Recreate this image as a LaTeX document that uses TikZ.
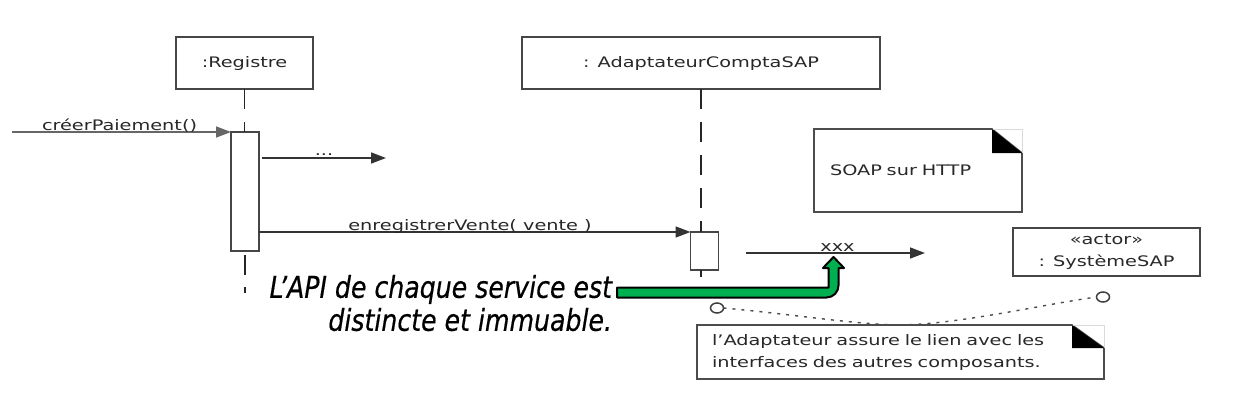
\documentclass[tikz,border=0pt]{standalone}
\usepackage{fontspec}
\setmainfont{DejaVu Sans}[FakeStretch=1.33]
\newfontfamily\apifont{DejaVu Sans}[FakeStretch=0.84,FakeBold=0.5]
\usetikzlibrary{arrows.meta,calc,shapes.geometric}
\definecolor{lc}{RGB}{70,70,70}
\definecolor{tc}{RGB}{40,40,40}
\definecolor{okgreen}{RGB}{0,176,80}
\begin{document}
\begin{tikzpicture}[x=1pt,y=-1pt,
  every node/.style={inner sep=0pt, outer sep=0pt, font=\fontsize{14.5}{21}\selectfont, text=tc},
  objbox/.style={draw=lc, line width=1.6pt, fill=white, minimum height=52pt},
  actbox/.style={draw=lc, line width=1.5pt, fill=white, minimum width=28pt},
  lifeline/.style={draw=black!85, line width=1.5pt, dash pattern=on 20pt off 13pt},
  msg/.style={draw=black!80, line width=1.5pt, -{Triangle[length=15pt,width=11pt]}},
  lbl/.style={anchor=base},
  notebd/.style={draw=black!70, line width=1.6pt},
  endpt/.style={ellipse, draw=black!75, line width=1.5pt, minimum width=13pt, minimum height=10pt, fill=white},
  assoc/.style={draw=black!70, line width=1.4pt, dash pattern=on 3pt off 6pt}
]
\useasboundingbox (0,0) rectangle (1234,404);
\fill[white] (0,0) rectangle (1234,404);

% objects
\node[objbox, minimum width=137pt] (reg) at (244.5,63) {:Registre};
\node[objbox, minimum width=358pt] (adp) at (701,63) {: AdaptateurComptaSAP};

% activations
\node[actbox, minimum height=119pt] (act1) at (245,191.5) {};
\node[actbox, minimum height=38pt] (act2) at (704.5,251) {};

% lifelines
\coordinate (l1end) at (245,293);
\coordinate (l2end) at (701,277);
\draw[lifeline] (reg.south) -- (reg.south |- act1.north);
\draw[draw=black!85, line width=1.5pt, dash pattern=on 0pt off 4pt on 20pt off 12pt on 20pt off 100pt] (act1.south) -- (l1end);
\draw[lifeline] (adp.south) -- (adp.south |- act2.north);
\draw[draw=black!85, line width=1.5pt] (adp.south |- act2.south) -- (l2end);

% messages
\coordinate (cpstart) at (12,132);
\draw[msg, draw=black!60] (cpstart) -- (act1.north west);
\node[lbl, anchor=base west] (cplbl) at (42,130) {créerPaiement()};

\coordinate (dstart) at (262,158);
\coordinate (dend) at (386,158);
\draw[msg] (dstart) -- (dend);
\node[lbl] (dlbl) at (324,155) {...};

\draw[msg] (act2.north west -| act1.east) -- (act2.north west);
\node[lbl] (evlbl) at (470,230) {enregistrerVente( vente )};

\coordinate (xstart) at (746,253);
\coordinate (xend) at (925,253);
\draw[msg] (xstart) -- (xend);
\node[lbl] (xlbl) at (837.5,251) {xxx};

% SOAP note
\node[minimum width=208pt, minimum height=83pt, text width=176pt, align=left] (soap) at (918,170.5) {SOAP sur HTTP};
\draw[notebd] (soap.north west) -- ($(soap.north east)+(-30,0)$) -- ($(soap.north east)+(0,24)$) -- (soap.south east) -- (soap.south west) -- cycle;
\draw[black!15, line width=1pt] ($(soap.north east)+(-30,0)$) -- (soap.north east) -- ($(soap.north east)+(0,24)$);
\fill[black] ($(soap.north east)+(-30,0)$) -- ($(soap.north east)+(-30,24)$) -- ($(soap.north east)+(0,24)$) -- cycle;

% actor
\node[draw=lc, line width=1.6pt, minimum width=187pt, minimum height=48pt, align=center,
      font=\fontsize{14.5}{22}\selectfont] (sap) at (1106.5,252) {«actor»\\: SystèmeSAP};

% bottom note
\node[minimum width=407pt, minimum height=54pt, text width=377pt, align=left,
      font=\fontsize{14.5}{22}\selectfont] (note) at (900.5,352) {l’Adaptateur assure le lien avec les\\interfaces des autres composants.};
\draw[notebd] (note.north west) -- ($(note.north east)+(-32,0)$) -- ($(note.north east)+(0,23)$) -- (note.south east) -- (note.south west) -- cycle;
\draw[black!15, line width=1pt] ($(note.north east)+(-32,0)$) -- (note.north east) -- ($(note.north east)+(0,23)$);
\fill[black] ($(note.north east)+(-32,0)$) -- ($(note.north east)+(-32,23)$) -- ($(note.north east)+(0,23)$) -- cycle;

% note attachments
\node[endpt] (c1) at (717,308) {};
\node[endpt] (c2) at (1103,297) {};
\draw[assoc] (c1.east) .. controls (800,315) and (850,324) .. (note.north);
\draw[assoc] (note.north) .. controls (960,324) and (1040,305) .. (c2.west);

% callout text
\node[anchor=north east, align=right, text=black,
      font=\apifont\itshape\fontsize{30}{33}\selectfont] (api) at (612,275) {L’API de chaque service est\\distincte et immuable.};

% green block arrow
\filldraw[fill=okgreen, draw=black, line width=2pt, line join=round]
  (617,287.5) -- (828.5,287.5) -- (828.5,268) -- (823,268) -- (833.5,257) -- (844,268) -- (838.5,268)
  -- (838.5,285.5) .. controls (838.5,292.1) and (833.1,297.5) .. (826.5,297.5) -- (617,297.5) -- cycle;
\end{tikzpicture}
\end{document}
